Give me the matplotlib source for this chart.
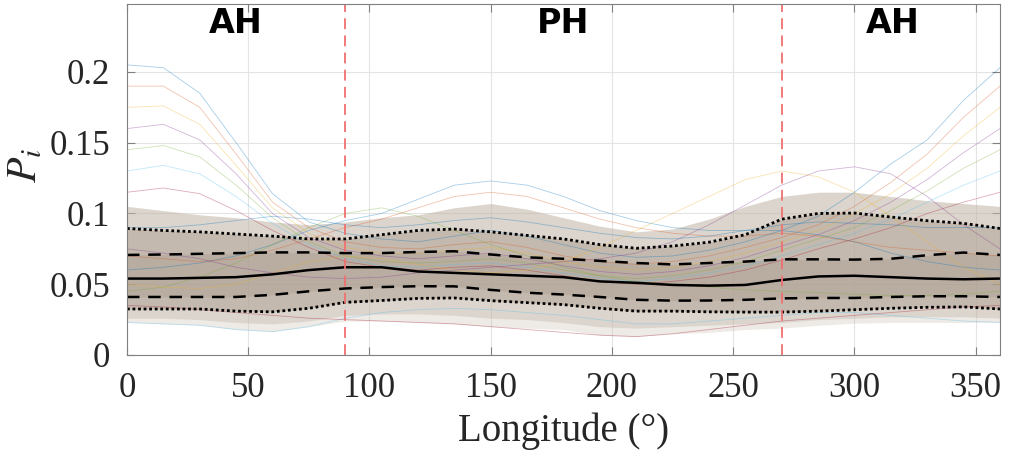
import numpy as np
import matplotlib
matplotlib.use("Agg")
import matplotlib.pyplot as plt

# longitude grid used for every series (deg)
lon = np.arange(0, 361, 15)

# statistics lines
median = [0.054, 0.054, 0.0545, 0.055, 0.057, 0.060, 0.062, 0.062, 0.059, 0.058, 0.057, 0.056, 0.055,
          0.052, 0.051, 0.0495, 0.049, 0.0495, 0.053, 0.0555, 0.056, 0.055, 0.054, 0.0535, 0.054]
q75 = [0.0707, 0.071, 0.0715, 0.072, 0.0725, 0.0725, 0.072, 0.072, 0.0728, 0.0733, 0.071, 0.069, 0.068,
       0.0665, 0.065, 0.064, 0.065, 0.066, 0.0676, 0.0676, 0.0674, 0.068, 0.0705, 0.0724, 0.0707]
q25 = [0.041, 0.041, 0.041, 0.041, 0.0425, 0.045, 0.047, 0.048, 0.0486, 0.0485, 0.046, 0.044, 0.0427,
       0.041, 0.039, 0.0384, 0.0385, 0.039, 0.040, 0.0403, 0.0403, 0.041, 0.0415, 0.0415, 0.041]
p90 = [0.0894, 0.088, 0.087, 0.0855, 0.084, 0.082, 0.082, 0.085, 0.088, 0.089, 0.087, 0.0845, 0.082,
       0.078, 0.0754, 0.077, 0.0797, 0.085, 0.096, 0.100, 0.1003, 0.0975, 0.0949, 0.093, 0.0894]
p10 = [0.0325, 0.0325, 0.0325, 0.031, 0.0305, 0.033, 0.0372, 0.0385, 0.040, 0.0403, 0.0384, 0.037, 0.0356,
       0.033, 0.031, 0.031, 0.0305, 0.0303, 0.0303, 0.031, 0.032, 0.033, 0.0337, 0.034, 0.0325]

# where the bulk of the individual curves sit
crowd_hi = [0.105, 0.102, 0.099, 0.097, 0.094, 0.092, 0.094, 0.097, 0.099, 0.104, 0.107, 0.103, 0.097,
            0.091, 0.087, 0.089, 0.096, 0.105, 0.112, 0.115, 0.115, 0.112, 0.109, 0.107, 0.105]
crowd_lo = [0.026, 0.026, 0.025, 0.023, 0.022, 0.024, 0.028, 0.029, 0.029, 0.028, 0.026, 0.025, 0.023,
            0.020, 0.019, 0.020, 0.021, 0.022, 0.023, 0.025, 0.026, 0.027, 0.027, 0.027, 0.026]
env_lo = [0.023, 0.022, 0.021, 0.018, 0.0165, 0.020, 0.024, 0.024, 0.023, 0.022, 0.020, 0.019, 0.018,
          0.014, 0.013, 0.015, 0.016, 0.018, 0.019, 0.021, 0.0225, 0.023, 0.023, 0.023, 0.023]

# individual curves that stand out of the bundle
curves = [
    [0.205, 0.203, 0.185, 0.150, 0.114, 0.094, 0.086, 0.082, 0.080, 0.084, 0.088, 0.084, 0.078,
     0.072, 0.069, 0.070, 0.074, 0.080, 0.088, 0.098, 0.115, 0.135, 0.152, 0.180, 0.203],
    [0.190, 0.190, 0.175, 0.142, 0.108, 0.090, 0.080, 0.076, 0.075, 0.078, 0.080, 0.076, 0.070,
     0.066, 0.064, 0.066, 0.070, 0.076, 0.083, 0.092, 0.105, 0.122, 0.142, 0.168, 0.190],
    [0.175, 0.176, 0.163, 0.134, 0.104, 0.086, 0.076, 0.072, 0.072, 0.074, 0.076, 0.072, 0.066,
     0.062, 0.060, 0.062, 0.066, 0.072, 0.080, 0.088, 0.100, 0.114, 0.132, 0.155, 0.175],
    [0.160, 0.163, 0.152, 0.128, 0.100, 0.083, 0.074, 0.070, 0.068, 0.070, 0.072, 0.068, 0.063,
     0.059, 0.057, 0.059, 0.063, 0.069, 0.077, 0.085, 0.095, 0.108, 0.124, 0.143, 0.160],
    [0.145, 0.148, 0.140, 0.120, 0.097, 0.080, 0.070, 0.066, 0.065, 0.066, 0.068, 0.065, 0.060,
     0.056, 0.054, 0.056, 0.060, 0.066, 0.074, 0.082, 0.090, 0.102, 0.116, 0.132, 0.145],
    [0.130, 0.134, 0.128, 0.112, 0.093, 0.078, 0.068, 0.063, 0.062, 0.064, 0.065, 0.062, 0.058,
     0.054, 0.052, 0.054, 0.058, 0.063, 0.070, 0.078, 0.086, 0.096, 0.108, 0.120, 0.130],
    [0.115, 0.118, 0.114, 0.102, 0.088, 0.076, 0.066, 0.062, 0.060, 0.062, 0.063, 0.060, 0.056,
     0.052, 0.050, 0.052, 0.055, 0.060, 0.067, 0.075, 0.082, 0.090, 0.100, 0.108, 0.115],
    [0.060, 0.062, 0.065, 0.070, 0.078, 0.088, 0.095, 0.100, 0.110, 0.120, 0.123, 0.120, 0.112,
     0.102, 0.095, 0.090, 0.088, 0.088, 0.088, 0.085, 0.080, 0.072, 0.066, 0.062, 0.060],
    [0.070, 0.068, 0.066, 0.068, 0.074, 0.082, 0.090, 0.096, 0.104, 0.112, 0.115, 0.112, 0.104,
     0.096, 0.090, 0.086, 0.084, 0.084, 0.086, 0.084, 0.080, 0.076, 0.074, 0.072, 0.070],
    [0.050, 0.048, 0.047, 0.050, 0.058, 0.066, 0.070, 0.068, 0.064, 0.060, 0.058, 0.060, 0.066,
     0.076, 0.088, 0.100, 0.112, 0.124, 0.130, 0.126, 0.115, 0.098, 0.080, 0.062, 0.050],
    [0.075, 0.072, 0.068, 0.062, 0.058, 0.055, 0.054, 0.055, 0.058, 0.060, 0.062, 0.064, 0.066,
     0.068, 0.072, 0.080, 0.092, 0.106, 0.120, 0.130, 0.133, 0.128, 0.112, 0.092, 0.075],
    [0.045, 0.048, 0.055, 0.065, 0.078, 0.090, 0.100, 0.104, 0.098, 0.088, 0.078, 0.070, 0.062,
     0.056, 0.052, 0.050, 0.048, 0.046, 0.045, 0.044, 0.043, 0.042, 0.042, 0.043, 0.045],
    [0.023, 0.022, 0.021, 0.018, 0.0165, 0.020, 0.026, 0.030, 0.032, 0.033, 0.032, 0.030, 0.028,
     0.025, 0.022, 0.022, 0.024, 0.026, 0.028, 0.030, 0.030, 0.028, 0.026, 0.024, 0.023],
    [0.035, 0.034, 0.032, 0.030, 0.028, 0.026, 0.025, 0.024, 0.023, 0.022, 0.020, 0.018, 0.016,
     0.014, 0.013, 0.015, 0.018, 0.021, 0.024, 0.026, 0.028, 0.030, 0.032, 0.034, 0.035],
    [0.090, 0.090, 0.092, 0.095, 0.098, 0.096, 0.092, 0.090, 0.092, 0.095, 0.097, 0.094, 0.090,
     0.086, 0.083, 0.082, 0.084, 0.088, 0.092, 0.094, 0.093, 0.092, 0.090, 0.090, 0.090],
]

regions = ['AH', 'PH', 'AH']
region_x = [45, 180, 316]
bounds = [90, 270]

matlab_colors = ['#0072BD', '#D95319', '#EDB120', '#7E2F8E', '#77AC30', '#4DBEEE', '#A2142F']

plt.rcParams['font.family'] = ['Liberation Serif', 'DejaVu Serif']
plt.rcParams['mathtext.fontset'] = 'stix'

fig = plt.figure(figsize=(10.11, 4.57), dpi=100)
ax = fig.add_axes([0.1256, 0.2232, 0.8635, 0.7680])

# bundle of curves, lighter towards the edges
ax.fill_between(lon, env_lo, crowd_hi, color='#cfc4b8', alpha=0.35, lw=0)
ax.fill_between(lon, crowd_lo, crowd_hi, color='#bcae9f', alpha=0.35, lw=0)
ax.fill_between(lon, p10, p90, color='#a8998a', alpha=0.45, lw=0)
ax.fill_between(lon, q25, q75, color='#9c8d7f', alpha=0.25, lw=0)
for i, c in enumerate(curves):
    ax.plot(lon, c, color=matlab_colors[i % len(matlab_colors)], lw=0.6, alpha=0.35,
            solid_joinstyle='round')

ax.plot(lon, median, color='k', lw=1.8)
ax.plot(lon, q75, color='k', lw=1.8, dashes=(5, 3.5))
ax.plot(lon, q25, color='k', lw=1.8, dashes=(5, 3.5))
ax.plot(lon, p90, color='k', lw=2.0, dashes=(1, 1))
ax.plot(lon, p10, color='k', lw=2.0, dashes=(1, 1))

for b in bounds:
    ax.axvline(b, color='#f07070', lw=1.3, dashes=(6, 3.5))

for name, xr in zip(regions, region_x):
    ax.text(xr, 0.2278, name, family='DejaVu Sans', fontweight='bold', fontsize=24,
            ha='center', va='baseline')

ax.set_xlim(0, 360)
ax.set_ylim(0, 0.248)
ax.set_xticks(np.arange(0, 361, 50))
ax.set_yticks([0, 0.05, 0.1, 0.15, 0.2])
ax.set_yticklabels(['0', '0.05', '0.1', '0.15', '0.2'])
ax.grid(True, color='#e4e4e4', lw=0.8)
ax.set_axisbelow(True)
ax.tick_params(direction='in', top=True, right=True, labelsize=25, colors='#808080',
               labelcolor='#262626', length=6)
ax.tick_params(axis='x', pad=12)
ax.tick_params(axis='y', pad=12)
for s in ax.spines.values():
    s.set_color('#808080')

ax.set_xlabel('Longitude (°)', fontsize=28, color='#262626', labelpad=6)
ax.set_ylabel('$P_i$', fontsize=30, color='#262626')
ax.yaxis.set_label_coords(-0.094, 0.54)

fig.savefig('out.png', dpi=100)
